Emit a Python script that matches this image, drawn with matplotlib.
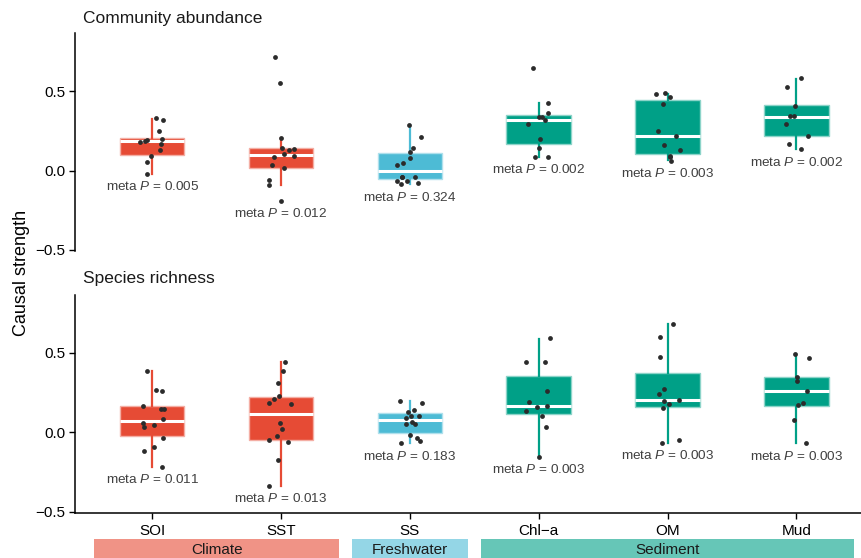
import numpy as np
import matplotlib
matplotlib.use('Agg')
import matplotlib.pyplot as plt
from matplotlib.patches import Rectangle

plt.rcParams['font.family'] = ['Liberation Sans', 'DejaVu Sans']
plt.rcParams['mathtext.fontset'] = 'custom'
plt.rcParams['mathtext.rm'] = 'Liberation Sans'
plt.rcParams['mathtext.it'] = 'Liberation Sans:italic'

# ---------------- data ----------------
categories = ['SOI', 'SST', 'SS', 'Chl\u2212a', 'OM', 'Mud']
cat_group = ['Climate', 'Climate', 'Freshwater', 'Sediment', 'Sediment', 'Sediment']
group_names = ['Climate', 'Freshwater', 'Sediment']
panel_titles = ['Community abundance', 'Species richness']

# Community abundance: points per driver
abund_SOI = [0.333, 0.316, 0.247, 0.186, 0.194, 0.196, 0.181, 0.167, 0.129, 0.091, 0.051, -0.021]
abund_SST = [0.715, 0.553, 0.205, 0.141, 0.133, 0.129, 0.101, 0.089, 0.087, 0.034, 0.017, -0.059, -0.089, -0.193]
abund_SS = [0.287, 0.209, 0.141, 0.116, 0.080, 0.046, 0.032, -0.038, -0.040, -0.044, -0.063, -0.068, -0.080, -0.087]
abund_Chla = [0.643, 0.426, 0.338, 0.361, 0.340, 0.321, 0.295, 0.200, 0.141, 0.087, 0.087]
abund_OM = [0.460, 0.479, 0.485, 0.420, 0.247, 0.215, 0.158, 0.129, 0.087, 0.091, 0.061]
abund_Mud = [0.580, 0.525, 0.409, 0.342, 0.344, 0.291, 0.219, 0.167, 0.133]

abund_q1 = [0.095, 0.017, -0.053, 0.165, 0.105, 0.215]
abund_med = [0.187, 0.095, -0.006, 0.321, 0.217, 0.335]
abund_q3 = [0.204, 0.143, 0.110, 0.352, 0.443, 0.413]
abund_wlo = [-0.021, -0.089, -0.084, 0.087, 0.063, 0.135]
abund_whi = [0.326, 0.205, 0.287, 0.426, 0.481, 0.576]
abund_p = ['0.005', '0.012', '0.324', '0.002', '0.003', '0.002']

# Species richness
rich_SOI = [0.386, 0.259, 0.268, 0.167, 0.143, 0.148, 0.084, 0.046, 0.059, 0.034, -0.038, -0.091, -0.118, -0.219]
rich_SST = [0.439, 0.388, 0.308, 0.226, 0.209, 0.186, 0.177, 0.061, 0.019, -0.023, -0.059, -0.049, -0.177, -0.337]
rich_SS = [0.196, 0.184, 0.139, 0.127, 0.105, 0.105, 0.089, 0.063, 0.049, 0.049, -0.015, -0.038, -0.053, -0.070]
rich_Chla = [0.591, 0.441, 0.445, 0.262, 0.190, 0.156, 0.163, 0.131, 0.105, 0.032, -0.156]
rich_OM = [0.679, 0.601, 0.473, 0.270, 0.241, 0.198, 0.203, 0.175, 0.150, -0.068, -0.051]
rich_Mud = [0.492, 0.466, 0.346, 0.325, 0.262, 0.186, 0.169, 0.078, -0.070]

rich_q1 = [-0.027, -0.049, -0.002, 0.114, 0.156, 0.162]
rich_med = [0.072, 0.112, 0.074, 0.163, 0.200, 0.259]
rich_q3 = [0.167, 0.224, 0.124, 0.352, 0.373, 0.350]
rich_wlo = [-0.219, -0.337, -0.068, -0.156, -0.068, -0.068]
rich_whi = [0.386, 0.439, 0.196, 0.587, 0.679, 0.492]
rich_p = ['0.011', '0.013', '0.183', '0.003', '0.003', '0.003']

# ---------------- style ----------------
group_colors = {'Climate': '#E64B35', 'Freshwater': '#4DBBD5', 'Sediment': '#00A087'}


def lighten(hexc, alpha=0.6):
    c = np.array(matplotlib.colors.to_rgb(hexc))
    return tuple(alpha * c + (1 - alpha) * 1.0)


W, H = 862, 558
fig = plt.figure(figsize=(W / 100, H / 100), dpi=100)

left = 75 / W
ax_w = 1.0 - left
ax_h = 218 / H
ax_top = fig.add_axes([left, (H - 251) / H, ax_w, ax_h])
ax_bot = fig.add_axes([left, (H - 512.7) / H, ax_w, ax_h])

panels = [
    (ax_top, [abund_SOI, abund_SST, abund_SS, abund_Chla, abund_OM, abund_Mud],
     abund_q1, abund_med, abund_q3, abund_wlo, abund_whi, abund_p, panel_titles[0]),
    (ax_bot, [rich_SOI, rich_SST, rich_SS, rich_Chla, rich_OM, rich_Mud],
     rich_q1, rich_med, rich_q3, rich_wlo, rich_whi, rich_p, panel_titles[1]),
]

rng = np.random.default_rng(7)
xpos = np.arange(1, len(categories) + 1)
txt_color = '#404040'

for ax, pts, q1, med, q3, wlo, whi, pv, title in panels:
    for i, x in enumerate(xpos):
        col = group_colors[cat_group[i]]
        stats = [dict(med=med[i], q1=q1[i], q3=q3[i], whislo=wlo[i], whishi=whi[i], fliers=[])]
        ax.bxp(stats, positions=[x], widths=0.5, patch_artist=True, showcaps=False,
               showfliers=False,
               boxprops=dict(facecolor=col, edgecolor=lighten(col, 0.45), linewidth=1.0),
               whiskerprops=dict(color=col, linewidth=1.6),
               medianprops=dict(color='white', linewidth=2.2, solid_capstyle='butt'),
               zorder=2)
        y = np.array(pts[i])
        jit = rng.uniform(-0.1, 0.1, size=len(y))
        ax.scatter(x + jit, y, s=12, color='#2b2b2b', zorder=4, linewidths=0)
        ax.text(x, y.min() - 0.08, 'meta $\\mathit{P}$ = ' + pv[i], ha='center', va='center',
                fontsize=9.7, color=txt_color, zorder=5)

    ax.set_xlim(0.4, 6.51)
    ax.set_ylim(-0.507, 0.866)
    ax.set_yticks([-0.5, 0.0, 0.5])
    ax.set_yticklabels(['\u22120.5', '0.0', '0.5'])
    for s in ['top', 'right']:
        ax.spines[s].set_visible(False)
    ax.spines['left'].set_linewidth(1.1)
    ax.tick_params(axis='y', length=4, width=1.0, labelsize=11, pad=3, colors='black')
    ax.text(83 / W, 0, title, transform=fig.transFigure, fontsize=12.5, color='#1a1a1a')

# titles positions (figure coords)
ax_top.texts[-1].set_position((83 / W, 1 - 19 / H))
ax_top.texts[-1].set_va('center')
ax_bot.texts[-1].set_position((83 / W, 1 - 279 / H))
ax_bot.texts[-1].set_va('center')

ax_top.spines['bottom'].set_visible(False)
ax_top.set_xticks([])

ax_bot.spines['bottom'].set_linewidth(1.1)
ax_bot.set_xticks(xpos)
ax_bot.set_xticklabels(categories)
ax_bot.tick_params(axis='x', length=4, width=1.0, labelsize=11, pad=4, colors='black')

fig.text(22 / W, 1 - 273 / H, 'Causal strength', rotation=90, ha='center', va='center',
         fontsize=13, color='black')

# group strips
ax_strip = fig.add_axes([left, -3 / H, ax_w, 22 / H], sharex=ax_bot)
ax_strip.set_ylim(0, 1)
ax_strip.axis('off')
for g in group_names:
    idx = [k + 1 for k, c in enumerate(cat_group) if c == g]
    x0, x1 = min(idx) - 0.45, max(idx) + 0.45
    ax_strip.add_patch(Rectangle((x0, 0), x1 - x0, 1, facecolor=lighten(group_colors[g], 0.6),
                                 edgecolor='none'))
    ax_strip.text((x0 + x1) / 2, 0.5, g, ha='center', va='center', fontsize=11, color='#1a1a1a')

fig.savefig('out.png', dpi=100)
